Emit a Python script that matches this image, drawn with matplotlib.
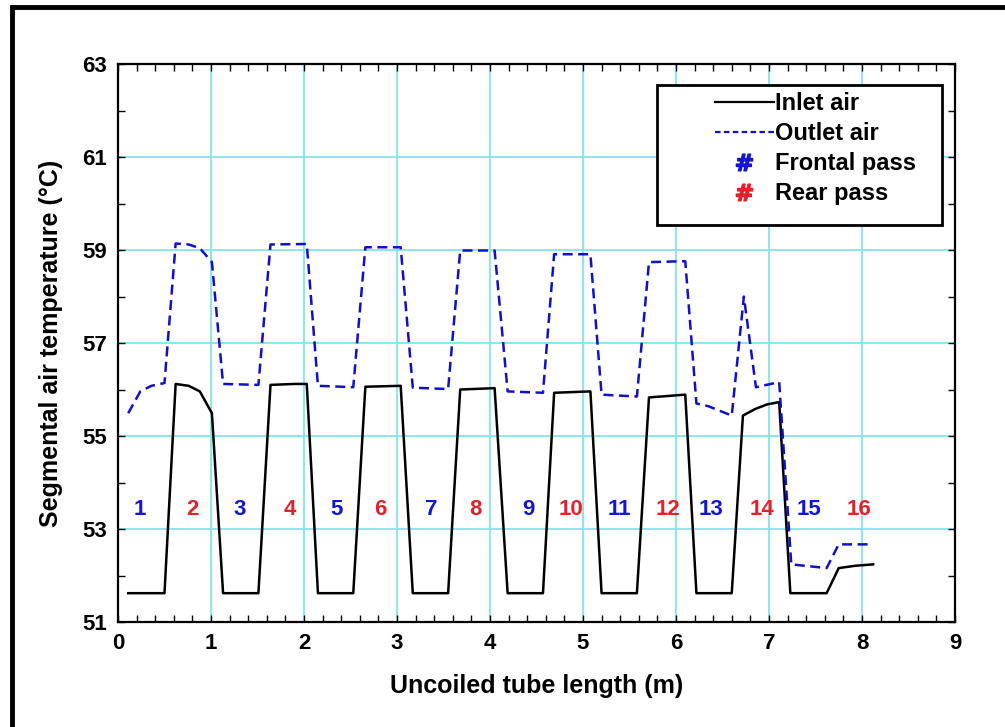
import matplotlib
matplotlib.use("Agg")
import matplotlib.pyplot as plt
from matplotlib.lines import Line2D
from matplotlib.patches import Rectangle
from matplotlib.ticker import MultipleLocator

plt.rcParams['font.family'] = ['Liberation Sans', 'DejaVu Sans']
plt.rcParams['font.weight'] = 'bold'

# Inlet air (black solid)
inlet_x = [0.11, 0.50, 0.62, 0.76, 0.88, 1.01, 1.13, 1.51, 1.64, 1.90, 2.03, 2.15,
           2.53, 2.66, 3.04, 3.17, 3.55, 3.68, 4.05, 4.19, 4.57, 4.69, 5.08, 5.20,
           5.58, 5.71, 6.10, 6.22, 6.60, 6.72, 6.85, 6.98, 7.11, 7.23, 7.62, 7.75,
           7.93, 8.12]
inlet_y = [51.62, 51.62, 56.12, 56.08, 55.96, 55.49, 51.62, 51.62, 56.10, 56.12, 56.12, 51.62,
           51.62, 56.06, 56.08, 51.62, 51.62, 56.00, 56.03, 51.62, 51.62, 55.93, 55.96, 51.62,
           51.62, 55.83, 55.89, 51.62, 51.62, 55.44, 55.58, 55.68, 55.73, 51.62, 51.62, 52.16,
           52.21, 52.24]

# Outlet air (blue dashed)
outlet_x = [0.11, 0.24, 0.36, 0.50, 0.62, 0.76, 0.88, 1.01, 1.13, 1.51, 1.64, 2.03,
            2.15, 2.53, 2.66, 3.04, 3.17, 3.55, 3.68, 4.05, 4.19, 4.57, 4.69, 5.08,
            5.20, 5.58, 5.71, 6.10, 6.22, 6.35, 6.60, 6.73, 6.86, 7.11, 7.24, 7.62,
            7.75, 8.12]
outlet_y = [55.49, 55.96, 56.08, 56.14, 59.14, 59.12, 59.04, 58.74, 56.12, 56.10, 59.12, 59.13,
            56.08, 56.05, 59.06, 59.06, 56.04, 56.01, 58.99, 58.99, 55.96, 55.93, 58.91, 58.91,
            55.89, 55.85, 58.74, 58.76, 55.70, 55.64, 55.44, 58.00, 56.05, 56.16, 52.24, 52.16,
            52.67, 52.67]

# pass numbers: odd = frontal (blue), even = rear (red)
pass_num = list(range(1, 17))
pass_x = [0.24, 0.80, 1.31, 1.85, 2.35, 2.82, 3.37, 3.84,
          4.41, 4.87, 5.39, 5.91, 6.38, 6.92, 7.43, 7.97]
pass_y = [53.43] * 16

y_ticks = [51, 53, 55, 57, 59, 61, 63]

BLUE = '#1414d2'
RED = '#e4202a'
GRID = '#7fe6ea'

fig = plt.figure(figsize=(10.05, 7.27), dpi=100)
ax = fig.add_axes([0.1174, 0.1444, 0.8328, 0.7675])

ax.plot(inlet_x, inlet_y, color='black', lw=1.8)
ax.plot(outlet_x, outlet_y, color='#1010c8', lw=1.8, dashes=(4.0, 2.2))

for n, x, y in zip(pass_num, pass_x, pass_y):
    ax.text(x, y, str(n), color=BLUE if n % 2 else RED, fontsize=16,
            fontweight='bold', ha='center', va='center')

ax.set_xlim(0, 9)
ax.set_ylim(51, 63)
ax.xaxis.set_major_locator(MultipleLocator(1))
ax.xaxis.set_minor_locator(MultipleLocator(0.2))
ax.set_yticks(y_ticks)
ax.yaxis.set_minor_locator(MultipleLocator(1))
ax.tick_params(which='both', direction='in', top=True, right=True,
               length=5, width=1, labelsize=16, pad=8)
ax.grid(True, which='major', color=GRID, lw=1.3)
ax.set_axisbelow(True)
for s in ax.spines.values():
    s.set_linewidth(1.6)

ax.set_xlabel('Uncoiled tube length (m)', fontsize=18, fontweight='bold', labelpad=14)
ax.set_ylabel('Segmental air temperature (°C)', fontsize=18, fontweight='bold', labelpad=14)

# legend: entries without frame, box drawn separately (wide left margin like the original)
handles = [
    Line2D([], [], color='black', lw=1.6),
    Line2D([], [], color='#1010c8', lw=1.6, dashes=(2.5, 1.5)),
    Line2D([], [], ls='none', marker='$\\#$', color=BLUE, markersize=12),
    Line2D([], [], ls='none', marker='$\\#$', color=RED, markersize=12),
]
labels = ['Inlet air', 'Outlet air', 'Frontal pass', 'Rear pass']
leg = ax.legend(handles, labels, loc='upper left', bbox_to_anchor=(0.713, 0.95),
                frameon=False, handlelength=2.5, handletextpad=0.05,
                labelspacing=0.3, borderpad=0, borderaxespad=0,
                prop={'weight': 'bold', 'size': 17})
ax.add_patch(Rectangle((0.644, 0.7115), 0.3405, 0.251, transform=ax.transAxes,
                       fill=True, facecolor='white', edgecolor='black', lw=2.0, zorder=4))
leg.set_zorder(5)

# outer frame around the figure
fig.patches.append(Rectangle((0.012, -0.1), 1.2, 1.091, transform=fig.transFigure,
                             fill=False, edgecolor='black', lw=3.5))

fig.savefig('out.png', dpi=100)
